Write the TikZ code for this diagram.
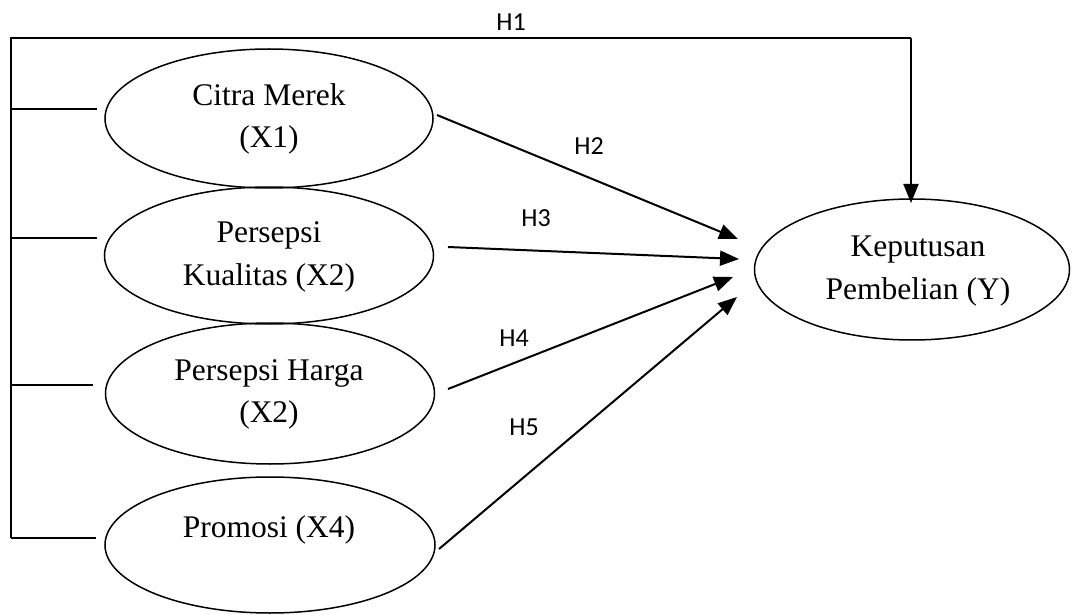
\documentclass[tikz,border=0pt]{standalone}
\usepackage{fontspec}
\setmainfont{Liberation Serif}
\newfontfamily\hfont{Carlito}
\usetikzlibrary{shapes.geometric,arrows.meta}
\tikzset{
  var/.style={draw=black, line width=1.5pt, ellipse, inner sep=0pt},
  txt/.style={font=\fontsize{31.5}{38}\selectfont, anchor=base, inner sep=0pt},
  hyp/.style={font=\hfont\fontsize{26}{30}\selectfont, anchor=base, inner sep=0pt},
  conn/.style={line width=2pt},
  arr/.style={line width=2pt, -{Triangle[length=19pt,width=15pt]}},
}
\begin{document}
\begin{tikzpicture}[x=1pt,y=-1pt]
\useasboundingbox (0,0) rectangle (1072,615);
\fill[white] (0,0) rectangle (1072,615);
% ellipses
\node[var, minimum width=328pt, minimum height=139pt] (e1) at (269,118.5) {};
\node[var, minimum width=329pt, minimum height=137pt] (e2) at (269,255.5) {};
\node[var, minimum width=329pt, minimum height=141pt] (e3) at (270,393.5) {};
\node[var, minimum width=330pt, minimum height=136pt] (e4) at (270,545) {};
\node[var, minimum width=315pt, minimum height=141pt] (ey) at (912,269.5) {};
% texts
\node[txt] (t1a) at (269,106) {Citra Merek};
\node[txt] (t1b) at (269,148) {(X1)};
\node[txt] (t2a) at (269,243) {Persepsi};
\node[txt] (t2b) at (269,285) {Kualitas (X2)};
\node[txt] (t3a) at (269,380) {Persepsi Harga};
\node[txt] (t3b) at (269,422) {(X2)};
\node[txt] (t4a) at (269,537) {Promosi (X4)};
\node[txt] (tya) at (918,257) {Keputusan};
\node[txt] (tyb) at (918,299) {Pembelian (Y)};
% hypothesis labels
\node[hyp] (h1) at (511,31) {H1};
\node[hyp] (h2) at (589,155) {H2};
\node[hyp] (h3) at (536,226) {H3};
\node[hyp] (h4) at (514,346) {H4};
\node[hyp] (h5) at (524,435) {H5};
% coordinates
\coordinate (lb) at (11,538);
\coordinate (lt) at (11,38);
\coordinate (rt) at (911,38);
\coordinate (yt) at (911,203);
\coordinate (k1) at (11,109);  \coordinate (m1) at (97,109);
\coordinate (k2) at (11,238);  \coordinate (m2) at (97,238);
\coordinate (k3) at (11,385);  \coordinate (m3) at (93,385);
\coordinate (k4) at (11,538);  \coordinate (m4) at (96,538);
\coordinate (s2) at (437,115); \coordinate (d2) at (738,239);
\coordinate (s3) at (448,247); \coordinate (d3) at (739,259);
\coordinate (s4) at (448,389); \coordinate (d4) at (733,277);
\coordinate (s5) at (439,549); \coordinate (d5) at (737,297);
% H1 path
\draw[conn] (lb) -- (lt) -- (rt);
\draw[arr] (rt) -- (yt);
\draw[conn] (k1) -- (m1);
\draw[conn] (k2) -- (m2);
\draw[conn] (k3) -- (m3);
\draw[conn] (k4) -- (m4);
% arrows
\draw[arr] (s2) -- (d2);
\draw[arr] (s3) -- (d3);
\draw[arr] (s4) -- (d4);
\draw[arr] (s5) -- (d5);
\end{tikzpicture}
\end{document}
